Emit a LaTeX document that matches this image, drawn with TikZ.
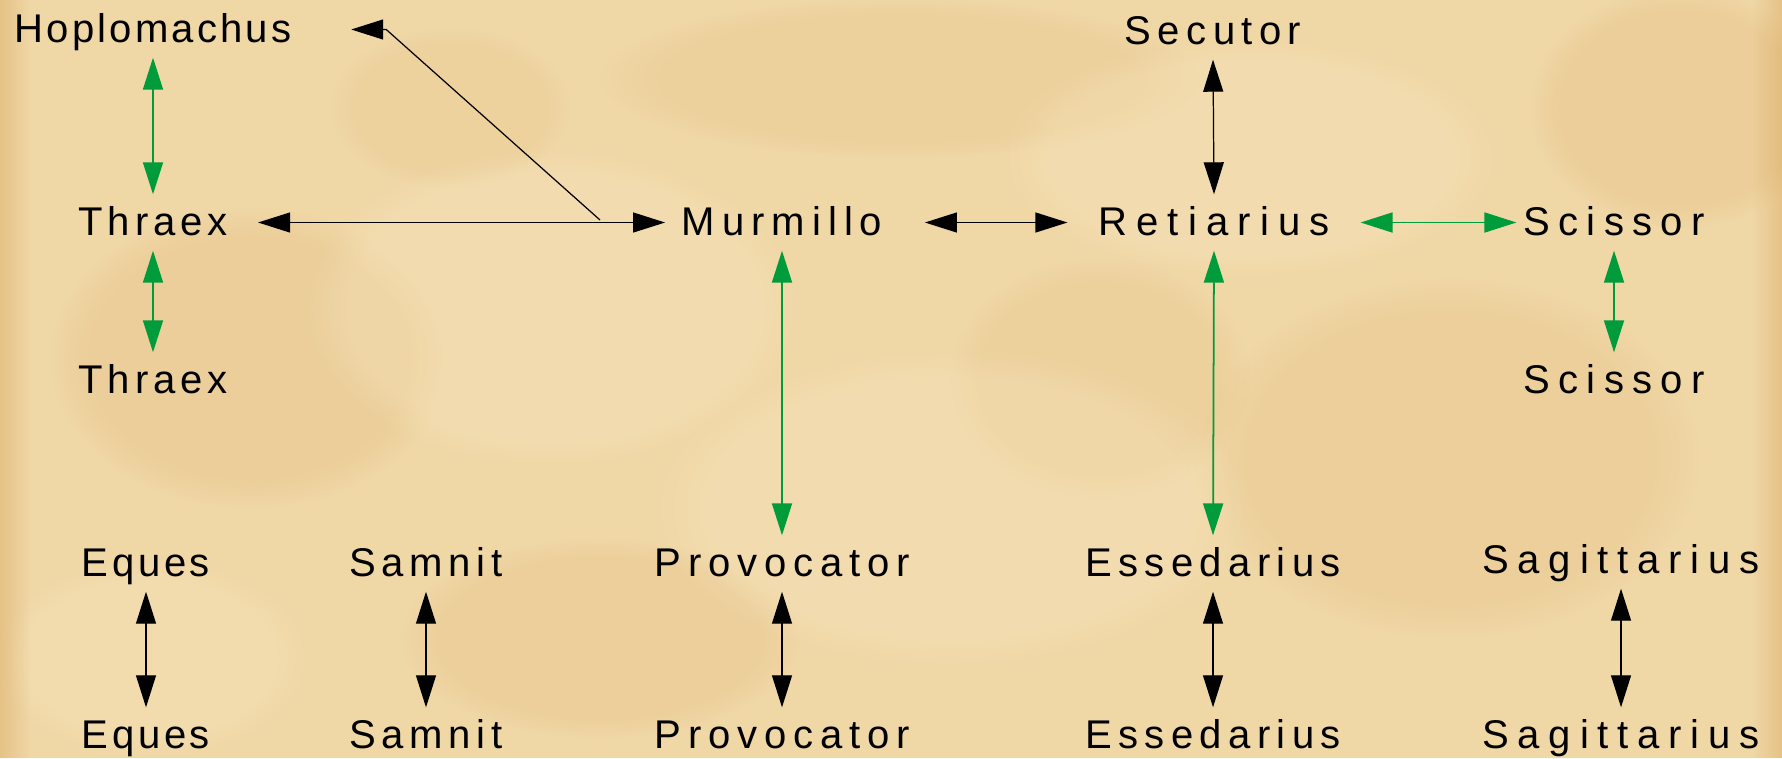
\documentclass[tikz,border=0pt]{standalone}
\usepackage{fontspec}
\setmainfont{Liberation Sans}
\usepackage{tikz}
\usetikzlibrary{arrows.meta, fadings}
\definecolor{parchBase}{HTML}{F0D7A6}
\definecolor{parchDark}{HTML}{D9A860}
\definecolor{parchLight}{HTML}{F8E7C2}
\definecolor{duelGreen}{HTML}{009B3A}

\begin{document}
\begin{tikzpicture}[
  glad/.style={font=\fontsize{11.4}{13}\selectfont\addfontfeature{LetterSpace=#1},
               anchor=base, text height=0.29cm, text depth=0.04cm,
               inner xsep=0.3cm, inner ysep=0.11cm},
  blk/.style={{Triangle[length=3.2mm, width=2mm]}-{Triangle[length=3.2mm, width=2mm]},
              line width=0.35pt, black},
  grn/.style={{Triangle[length=3.2mm, width=2mm]}-{Triangle[length=3.2mm, width=2mm]},
              line width=0.5pt, duelGreen},
]
  \useasboundingbox (0,0) rectangle (17.82,7.58);
  \fill[parchBase] (0,0) rectangle (17.82,7.58);
  \foreach \cx/\cy/\rx/\ry/\op in {2.5/4.0/2.0/1.5/0.18, 9.0/6.8/3.0/0.8/0.12,
      14.5/3.0/2.5/1.8/0.15, 6.0/1.2/2.0/1.0/0.15, 11.0/3.8/1.5/1.2/0.12,
      16.8/6.5/1.5/1.2/0.18, 4.5/6.5/1.2/0.8/0.1}
    \fill[parchDark, opacity=\op, path fading=circle with fuzzy edge 20 percent]
      (\cx,\cy) ellipse ({\rx} and {\ry});
  \foreach \cx/\cy/\rx/\ry/\op in {5.5/4.5/2.5/1.6/0.35, 12.5/6.0/2.5/1.2/0.3,
      9.5/2.5/3.0/1.6/0.3, 1.5/1.0/1.6/1.0/0.25}
    \fill[parchLight, opacity=\op, path fading=circle with fuzzy edge 20 percent]
      (\cx,\cy) ellipse ({\rx} and {\ry});
  \fill[parchDark, opacity=0.45, path fading=east] (0,0) rectangle (0.3,7.58);
  \fill[parchDark, opacity=0.45, path fading=west] (17.52,0) rectangle (17.82,7.58);

  \node[glad=8] (hop) at (1.53, 7.16) {Hoplomachus};
  \node[glad=16] (sec) at (12.13, 7.14) {Secutor};
  \node[glad=12] (thr) at (1.53, 5.23) {Thraex};
  \node[glad=17.5] (mur) at (7.82, 5.23) {Murmillo};
  \node[glad=23] (ret) at (12.14, 5.23) {Retiarius};
  \node[glad=21] (sci) at (16.14, 5.23) {Scissor};
  \node[glad=12] (thrB) at (1.53, 3.65) {Thraex};
  \node[glad=21] (sciB) at (16.14, 3.65) {Scissor};
  \node[glad=9] (equ) at (1.46, 1.82) {Eques};
  \node[glad=14] (sam) at (4.26, 1.82) {Samnit};
  \node[glad=17] (pro) at (7.82, 1.82) {Provocator};
  \node[glad=16] (ess) at (12.13, 1.82) {Essedarius};
  \node[glad=22] (sag) at (16.21, 1.85) {Sagittarius};
  \node[glad=9] (equB) at (1.46, 0.10) {Eques};
  \node[glad=14] (samB) at (4.26, 0.10) {Samnit};
  \node[glad=17] (proB) at (7.82, 0.10) {Provocator};
  \node[glad=16] (essB) at (12.13, 0.10) {Essedarius};
  \node[glad=22] (sagB) at (16.21, 0.10) {Sagittarius};

  \coordinate (fork) at (6.00, 5.38);
  \coordinate (bend) at ([xshift=0.64cm]hop.east);

  \draw[grn] (hop.south) -- (thr.north);
  \draw[grn] (thr.south) -- (thrB.north);
  \draw[blk, shorten >=-0.14cm] (thr.east) -- (mur.west);
  \draw[line width=0.35pt, -{Triangle[length=3.2mm, width=2mm]}, shorten >=0.29cm]
    (fork) -- (bend) -- (hop.east);
  \draw[blk, shorten <=0.12cm] (mur.east) -- (ret.west);
  \draw[blk] (sec.south) -- (ret.north);
  \draw[grn, shorten >=-0.24cm] (ret.east) -- (sci.west);
  \draw[grn] (sci.south) -- (sciB.north);
  \draw[grn] (mur.south) -- (pro.north);
  \draw[grn] (ret.south) -- (ess.north);
  \draw[blk] (equ.south) -- (equB.north);
  \draw[blk] (sam.south) -- (samB.north);
  \draw[blk] (pro.south) -- (proB.north);
  \draw[blk] (ess.south) -- (essB.north);
  \draw[blk] (sag.south) -- (sagB.north);
\end{tikzpicture}
\end{document}
